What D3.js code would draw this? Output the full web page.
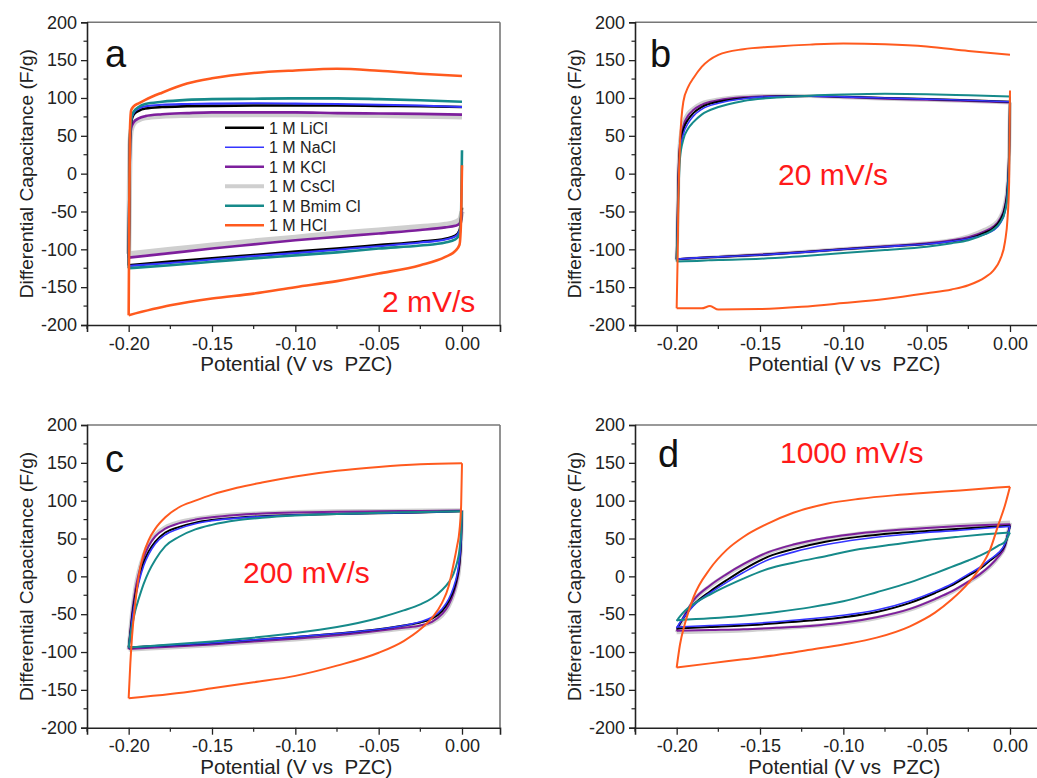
<!DOCTYPE html>
<html>
<head>
<meta charset="utf-8">
<script src="https://cdn.jsdelivr.net/npm/d3@7"></script>
<style>
  body { margin: 0; background: #fff; }
  svg { display: block; font-family: "Liberation Sans", Arial, sans-serif; }
</style>
</head>
<body>
<script>
// electrolytes, in legend order
var electrolytes = ["1 M LiCl", "1 M NaCl", "1 M KCl", "1 M CsCl", "1 M Bmim Cl", "1 M HCl"];
var rates = ["2 mV/s", "20 mV/s", "200 mV/s", "1000 mV/s"];
var panelLetters = ["a", "b", "c", "d"];
var yTicks = [-200, -150, -100, -50, 0, 50, 100, 150, 200];
var xTicks = [-0.20, -0.15, -0.10, -0.05, 0.00];

// ---- panel a, 2 mV/s ----
var potUpA = [-0.2, -0.1996, -0.1992, -0.1985, -0.197, -0.194, -0.19, -0.18, -0.165, -0.15, -0.125, -0.1, -0.075, -0.05, -0.025, 0];
var capUpA = [
  [-121, -30, 45, 68, 78, 83, 86, 88, 89, 89.5, 90, 90, 90, 89.5, 89, 88],
  [-122, -30, 47, 70, 80, 86, 89, 91, 92, 92.5, 93, 92.5, 92, 91, 90, 88],
  [-111, -30, 40, 60, 68, 73, 76, 78.5, 80, 81, 81, 81, 80, 79.5, 79, 78],
  [-106, -30, 38, 57, 66, 71, 74, 76, 77, 77.5, 78, 78, 77.5, 77, 76, 75],
  [-125, -30, 50, 72, 82, 88, 92, 95, 97.5, 98.5, 99, 99.5, 99.5, 98.5, 97, 95],
  [-187, -40, 60, 84, 89, 93, 97.6, 107, 119, 126, 133, 136.4, 138.6, 136, 132, 129]
];
var potDnA = [-0.2, -0.175, -0.15, -0.125, -0.1, -0.075, -0.05, -0.025, -0.01, -0.004, -0.0015, -0.0005, 0];
var capDnA = [
  [-121, -116, -112, -107.5, -103, -99, -94.5, -90, -86, -82, -75, -60, -45],
  [-122, -118, -113.5, -109, -105, -100.5, -96, -91, -87, -83, -76, -62, -48],
  [-111, -105, -99, -93.5, -88, -83.5, -79, -74.5, -71, -69, -66, -58, -50],
  [-106, -100, -94.5, -89, -84, -79, -74.5, -70, -67, -64, -61, -55, -50],
  [-125, -121, -116.5, -112, -108, -104, -99, -95, -91, -87, -80, -50, 31],
  [-187, -174, -165, -158.5, -150, -142, -132, -121, -110, -102, -94, -57, 11]
];

// ---- panel b, 20 mV/s ----
var potUpB = [-0.2, -0.1995, -0.199, -0.198, -0.196, -0.193, -0.19, -0.185, -0.175, -0.16, -0.14, -0.12, -0.1, -0.075, -0.05, -0.025, 0];
var capUpB = [
  [-113, -70, -13, 35, 58, 72, 80, 88, 95, 99.5, 102, 102.5, 101.5, 100, 98.5, 97, 95],
  [-113, -75, -20, 28, 52, 67, 76, 85, 93, 99, 102, 102.5, 101.5, 100, 98.5, 97, 95],
  [-113, -68, -8, 40, 63, 77, 84, 91, 97, 101, 102.5, 102.5, 101, 99, 97.5, 96, 94],
  [-114, -66, -5, 43, 66, 80, 86, 93, 98, 101.5, 103, 102.5, 101, 99, 97.5, 96, 94],
  [-116, -80, -35, 20, 45, 60, 68, 78, 88, 96, 100.5, 103, 104.5, 105.5, 105, 103.5, 102],
  [-178, -120, -40, 40, 95, 115, 126, 141, 157, 164.5, 168, 170.5, 172, 171, 168, 162, 157]
];
var potDnB = [-0.2, -0.185, -0.18, -0.175, -0.15, -0.125, -0.1, -0.075, -0.05, -0.035, -0.025, -0.015, -0.01, -0.006, -0.003, -0.0015, -0.0005, 0];
var capDnB = [
  [-113, -111, -110.5, -110, -107.5, -104, -100, -96.5, -93, -89.5, -86, -78, -72, -62, -45, -20, 30, 95],
  [-113, -111, -110.5, -110, -107.5, -104, -100, -96.5, -93, -89.5, -86, -80, -75, -66, -50, -25, 25, 95],
  [-113, -111, -110.5, -110, -107, -103.5, -99.5, -96, -92, -88, -84, -76, -70, -60, -42, -18, 30, 94],
  [-114, -111.5, -111, -110, -107, -103.5, -99.5, -96, -92, -88, -83, -74, -68, -58, -40, -16, 30, 94],
  [-116, -115, -114.5, -114, -112.5, -109, -105, -101, -96.5, -92, -88, -80, -74, -65, -50, -30, 20, 102],
  [-178, -178, -175, -179.5, -179, -176, -171, -165.5, -158, -153, -147.5, -137, -128, -114, -90, -60, -10, 110]
];

// ---- panel c, 200 mV/s ----
var potUpC = [-0.2, -0.199, -0.198, -0.196, -0.194, -0.191, -0.188, -0.184, -0.178, -0.17, -0.16, -0.15, -0.135, -0.12, -0.1, -0.075, -0.05, -0.025, 0];
var capUpC = [
  [-94, -75, -55, -25, -5, 18, 33, 46, 58, 65, 71, 74.5, 77.5, 79.5, 81, 82.5, 83.5, 84.5, 86],
  [-94, -77, -58, -29, -9, 14, 29, 43, 55, 63, 69.5, 73.5, 77, 79, 81, 82.5, 83.5, 84.5, 86],
  [-96, -72, -50, -18, 3, 25, 40, 53, 63, 70, 75, 78, 81, 83, 84.5, 85.5, 86, 86.5, 87],
  [-97, -70, -48, -15, 6, 28, 43, 55, 65, 71.5, 76, 79, 82, 83.5, 85, 86, 86.5, 87, 87.5],
  [-94, -78, -66, -45, -30, -10, 6, 22, 40, 52, 62, 68, 74, 77.5, 80.5, 82.5, 84, 85, 86],
  [-161, -115, -80, -35, 0, 30, 48, 63, 78, 91, 100, 108, 117, 124, 132, 139.5, 144.5, 148, 149.5]
];
var potDnC = [-0.2, -0.175, -0.15, -0.125, -0.1, -0.075, -0.05, -0.035, -0.025, -0.018, -0.012, -0.008, -0.005, -0.003, -0.0015, -0.0005, 0];
var capDnC = [
  [-94, -91, -88, -84, -80, -75.5, -70, -65, -61, -56, -46, -33, -18, -2, 18, 50, 86],
  [-94, -91, -88, -84, -80, -75.5, -70, -65, -60, -54, -43, -30, -14, 2, 22, 52, 86],
  [-96, -93, -90, -86, -82.5, -78, -72, -68, -65, -60, -50, -38, -22, -6, 15, 50, 87],
  [-97, -94, -91, -87, -83.5, -79, -73, -69, -66, -61, -52, -40, -24, -8, 13, 48, 87.5],
  [-94, -90, -86, -81, -75, -67, -55, -45, -37, -29, -18, -8, 4, 18, 35, 60, 86],
  [-161, -155.5, -148, -140, -131.5, -118, -101, -85.5, -70, -55, -35, -13, 17, 39.5, 61, 95, 149.5]
];

// ---- panel d, 1000 mV/s ----
var potUpD = [-0.2, -0.198, -0.195, -0.19, -0.18, -0.17, -0.16, -0.145, -0.13, -0.11, -0.09, -0.07, -0.05, -0.03, -0.015, 0];
var capUpD = [
  [-69, -62, -52, -38, -20, -5, 9, 26, 36, 46, 52.5, 57, 60, 63, 65, 67],
  [-68, -61, -52, -39, -22, -8, 5, 22, 32, 42, 49, 54, 58, 61, 63.5, 66],
  [-72, -63, -50, -32, -12, 3, 16, 32, 42, 51, 57, 61, 64, 66.5, 68, 69],
  [-74, -65, -52, -33, -13, 2, 15, 31, 41, 50, 56.5, 61, 64.5, 67.5, 69.5, 71],
  [-59, -53, -45.5, -37, -24, -13, -3, 10, 18, 27, 36, 42, 48, 52.5, 55.5, 58],
  [-120.6, -90, -62, -28, 10, 35, 52, 70, 84, 96, 102.5, 107, 110.5, 113.5, 116, 118.5]
];
var potDnD = [-0.2, -0.18, -0.16, -0.14, -0.12, -0.1, -0.08, -0.06, -0.045, -0.035, -0.025, -0.018, -0.012, -0.007, -0.003, 0];
var capDnD = [
  [-69, -67, -65, -62, -58.5, -54, -47, -35, -22, -12, 1, 10, 21, 30, 42, 67],
  [-67, -65, -63, -60, -56, -51.5, -44.5, -32.5, -20, -10, 3, 12, 22.5, 31, 43, 66],
  [-72, -71, -70, -68, -65.5, -61, -54, -43, -30, -20, -7, 3, 14, 26, 40, 69],
  [-74, -73, -71.5, -69, -66, -62, -55, -44, -31, -21, -8, 2, 13, 25, 40, 71],
  [-58, -55.5, -52, -47, -41, -33, -21, -8, 4, 12.5, 21, 27.5, 34, 40.5, 46, 58],
  [-120.6, -115, -109.6, -104, -97, -90, -81, -66, -48, -30.7, -9, 11, 35, 68, 94, 118.5]
];

var colors = ["#000000", "#3535ff", "#7d1f9c", "#cfcfcf", "#168a8a", "#ff5a1e"];
var widths = [2, 1.6, 2, 4, 2, 2];
var drawOrder = [3, 2, 0, 1, 4, 5];

var W = 1037, H = 778;
var svg = d3.select("body").append("svg").attr("width", W).attr("height", H);

var panels = [
  {left: 87, top: 22.3, pu: potUpA, cu: capUpA, pd: potDnA, cd: capDnA, letter: [105, 67], rate: [382, 312], thick: 1.3},
  {left: 635, top: 22.3, pu: potUpB, cu: capUpB, pd: potDnB, cd: capDnB, letter: [650, 67], rate: [778, 185], thick: 1},
  {left: 87, top: 425, pu: potUpC, cu: capUpC, pd: potDnC, cd: capDnC, letter: [105, 472], rate: [243, 583], thick: 1},
  {left: 635, top: 425, pu: potUpD, cu: capUpD, pd: potDnD, cd: capDnD, letter: [658, 467], rate: [780, 463], thick: 1}
];
var pw = 413, ph = 302.7;
var fmtY = d3.format("d"), fmtX = d3.format(".2f");

panels.forEach(function(p, pi) {
  var g = svg.append("g").attr("transform", "translate(" + p.left + "," + p.top + ")");
  var x = d3.scaleLinear().domain([-0.225, 0.0228]).range([0, pw]);
  var y = d3.scaleLinear().domain([-200, 200]).range([ph, 0]);

  // frame (top and right lighter)
  g.append("line").attr("x1", 0).attr("x2", pw).attr("y1", 0).attr("y2", 0)
    .attr("stroke", "#777").attr("stroke-width", 1.6);
  g.append("line").attr("x1", pw).attr("x2", pw).attr("y1", 0).attr("y2", ph)
    .attr("stroke", "#777").attr("stroke-width", 1.6);

  // minor ticks
  g.selectAll(".ymin").data(d3.range(-175, 200, 50)).enter().append("line")
    .attr("x1", -3.5).attr("x2", 0).attr("y1", y).attr("y2", y)
    .attr("stroke", "#222").attr("stroke-width", 1.2);
  g.selectAll(".xmin").data([-0.225, -0.175, -0.125, -0.075, -0.025]).enter().append("line")
    .attr("x1", x).attr("x2", x).attr("y1", ph).attr("y2", ph + 4)
    .attr("stroke", "#222").attr("stroke-width", 1.2);

  var yAxis = g.append("g")
    .call(d3.axisLeft(y).tickValues(yTicks).tickSize(6).tickPadding(4)
      .tickFormat(function(d) { return fmtY(d).replace("\u2212", "-"); }));
  var xAxis = g.append("g").attr("transform", "translate(0," + ph + ")")
    .call(d3.axisBottom(x).tickValues(xTicks).tickSize(7).tickPadding(5)
      .tickFormat(function(d) { return fmtX(d).replace("\u2212", "-"); }));
  [yAxis, xAxis].forEach(function(ax) {
    ax.select(".domain").attr("stroke", "#222").attr("stroke-width", 1.6);
    ax.selectAll(".tick line").attr("stroke", "#222").attr("stroke-width", 1.3);
    ax.selectAll(".tick text").attr("fill", "#222")
      .style("font-size", "18px").style("font-family", "'Liberation Sans', Arial, sans-serif");
  });

  // axis titles
  g.append("text").attr("transform", "translate(-54," + (ph / 2) + ") rotate(-90)")
    .attr("text-anchor", "middle").style("font-size", "19.2px").attr("fill", "#222")
    .text("Differential Capacitance (F/g)");
  g.append("text").attr("x", x(-0.1) + 1).attr("y", ph + 46)
    .attr("text-anchor", "middle").style("font-size", "20.6px").style("white-space", "pre")
    .attr("fill", "#222").text("Potential (V vs  PZC)");

  // curves: forward (upper) and reverse (lower) branches
  var line = d3.line().curve(d3.curveMonotoneX)
    .x(function(d) { return x(d[0]); }).y(function(d) { return y(d[1]); });
  drawOrder.forEach(function(i) {
    var up = p.pu.map(function(v, k) { return [v, p.cu[i][k]]; });
    var dn = p.pd.map(function(v, k) { return [v, p.cd[i][k]]; });
    [up, dn].forEach(function(pts) {
      g.append("path").datum(pts)
        .attr("d", line).attr("fill", "none")
        .attr("stroke", colors[i]).attr("stroke-width", widths[i] * p.thick)
        .attr("stroke-linejoin", "round");
    });
  });

  svg.append("text").attr("x", p.letter[0]).attr("y", p.letter[1])
    .style("font-size", "38px").attr("fill", "#111").text(panelLetters[pi]);
  svg.append("text").attr("x", p.rate[0]).attr("y", p.rate[1])
    .style("font-size", "30px").attr("fill", "#ff1a1a").text(rates[pi]);
});

// legend (panel a)
var legend = svg.append("g").attr("transform", "translate(225,127.7)");
electrolytes.forEach(function(name, i) {
  var row = legend.append("g").attr("transform", "translate(0," + (i * 19.5) + ")");
  row.append("line").attr("x1", 0).attr("x2", 39).attr("y1", 0).attr("y2", 0)
    .attr("stroke", colors[i]).attr("stroke-width", i === 3 ? 4 : (i === 1 ? 1.6 : 2.4));
  row.append("text").attr("x", 44).attr("y", 6).style("font-size", "16px")
    .attr("fill", "#222").text(name);
});
</script>
</body>
</html>
